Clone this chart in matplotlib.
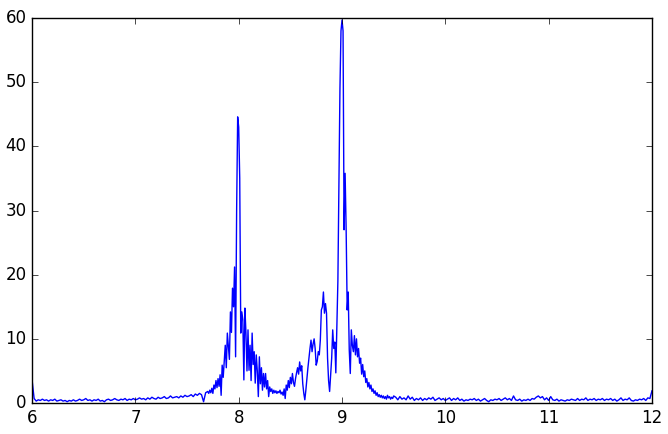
import numpy as np
import matplotlib
matplotlib.use("Agg")
import matplotlib.pyplot as plt

# --- data ----------------------------------------------------------------
# low-frequency side, 6.00 .. 7.68 (step 0.02)
low_vals = [
    3.6, 0.7, 0.3, 0.5, 0.4, 0.6, 0.4, 0.5, 0.3, 0.5,
    0.4, 0.6, 0.3, 0.4, 0.5, 0.3, 0.4, 0.2, 0.4, 0.3,
    0.5, 0.3, 0.4, 0.6, 0.4, 0.5, 0.7, 0.4, 0.5, 0.3,
    0.5, 0.4, 0.6, 0.3, 0.4, 0.2, 0.5, 0.6, 0.4, 0.5,
    0.7, 0.5, 0.4, 0.6, 0.5, 0.7, 0.4, 0.6, 0.5, 0.7,
    0.5, 0.6, 0.8, 0.6, 0.7, 0.5, 0.8, 0.6, 0.9, 0.7,
    0.6, 0.9, 0.7, 0.8, 1.0, 0.7, 0.8, 1.1, 0.8, 0.9,
    1.0, 0.8, 1.1, 0.9, 1.2, 1.0, 1.1, 1.3, 1.0, 1.4,
    1.2, 1.5, 1.3, 0.2, 1.6,
]

# peak region, 7.70 .. 9.50 (step 0.01)
peak_vals = [
    1.8, 1.5, 2.0, 1.6, 2.3, 1.5, 2.8, 2.2, 3.5, 2.4,
    3.8, 2.6, 4.4, 1.2, 5.9, 4.0, 6.5, 9.0, 5.5, 10.9,
    8.8, 6.8, 14.2, 11.0, 17.9, 15.0, 21.2, 7.2, 30.0, 44.6,
    43.0, 35.0, 10.9, 14.2, 13.0, 3.6, 14.8, 11.0, 5.0, 11.4,
    5.1, 9.0, 3.5, 10.9, 6.0, 8.0, 3.1, 7.5, 5.0, 1.0,
    7.2, 3.0, 5.5, 2.0, 4.6, 2.5, 4.6, 2.2, 3.5, 1.0,
    2.5, 1.8, 2.2, 1.5, 2.0, 1.6, 1.9, 1.5, 1.8, 1.6,
    2.0, 1.4, 1.7, 1.2, 2.2, 0.7, 2.8, 2.0, 3.5, 2.4,
    4.0, 3.0, 4.6, 3.2, 2.6, 3.8, 4.7, 5.5, 4.5, 6.4,
    5.0, 5.8, 3.0, 1.5, 0.5, 2.0, 3.8, 5.5, 7.0, 8.5,
    9.8, 8.0, 9.2, 10.0, 8.5, 5.9, 6.5, 8.0, 7.5, 9.8,
    14.5, 15.0, 17.3, 14.0, 15.5, 14.0, 7.0, 3.5, 1.8, 4.5,
    7.0, 11.4, 8.5, 9.5, 4.7, 12.0, 19.0, 34.0, 49.0, 58.0,
    59.7, 58.0, 27.0, 35.8, 27.0, 14.5, 17.3, 8.3, 4.6, 11.4,
    9.0, 8.0, 10.5, 7.5, 10.0, 7.2, 8.5, 6.2, 7.0, 4.5,
    6.0, 4.1, 5.0, 3.2, 3.8, 2.5, 3.2, 2.2, 2.8, 1.8,
    2.2, 1.5, 1.9, 1.2, 1.6, 1.0, 1.3, 0.9, 1.2, 0.8,
    1.1, 0.7, 1.0, 0.6, 1.2, 0.8, 1.0, 0.6, 0.9, 0.7,
    1.1,
]

# high-frequency side, 9.52 .. 12.00 (step 0.02)
high_vals = [
    0.9, 0.5, 1.0, 0.6, 0.8, 0.5, 1.1, 0.6, 0.9, 0.4,
    0.7, 0.5, 0.8, 0.4, 0.7, 0.5, 0.8, 0.6, 0.9, 0.4,
    0.6, 0.8, 0.5, 0.7, 0.4, 0.6, 0.8, 0.4, 0.7, 0.5,
    0.8, 0.4, 0.6, 0.3, 0.5, 0.4, 0.6, 0.5, 0.7, 0.4,
    0.6, 0.3, 0.5, 0.7, 0.4, 0.2, 0.5, 0.4, 0.6, 0.5,
    0.7, 0.4, 0.6, 0.8, 0.5, 0.7, 0.4, 1.1, 0.5, 0.4,
    0.6, 0.3, 0.5, 0.4, 0.6, 0.4, 0.7, 0.6, 0.9, 1.1,
    0.8, 1.0, 0.5, 0.8, 0.4, 1.0, 0.5, 0.4, 0.6, 0.3,
    0.5, 0.4, 0.3, 0.5, 0.4, 0.6, 0.5, 0.4, 0.7, 0.4,
    0.6, 0.5, 0.8, 0.4, 0.6, 0.5, 0.7, 0.4, 0.6, 0.5,
    0.7, 0.4, 0.6, 0.5, 0.7, 0.4, 0.6, 0.3, 0.5, 0.8,
    0.4, 0.6, 0.5, 0.8, 0.4, 0.3, 0.5, 0.4, 0.6, 0.5,
    0.7, 0.4, 0.8, 0.7, 1.9,
]

x_low = np.linspace(6.0, 7.68, len(low_vals))
x_peak = np.linspace(7.70, 9.50, len(peak_vals))
x_high = np.linspace(9.52, 12.0, len(high_vals))

x = np.concatenate([x_low, x_peak, x_high])
y = np.concatenate([low_vals, peak_vals, high_vals])

# --- plot ---------------------------------------------------------------
plt.style.use('classic')

fig = plt.figure(figsize=(6.68, 4.34), dpi=100, facecolor='white')
ax = fig.add_axes([0.048, 0.0714, 0.928, 0.887])

ax.plot(x, y, color='b', linewidth=1.0)
ax.set_xlim(6, 12)
ax.set_ylim(0, 60)

fig.savefig('out.png', dpi=100, facecolor='white')
